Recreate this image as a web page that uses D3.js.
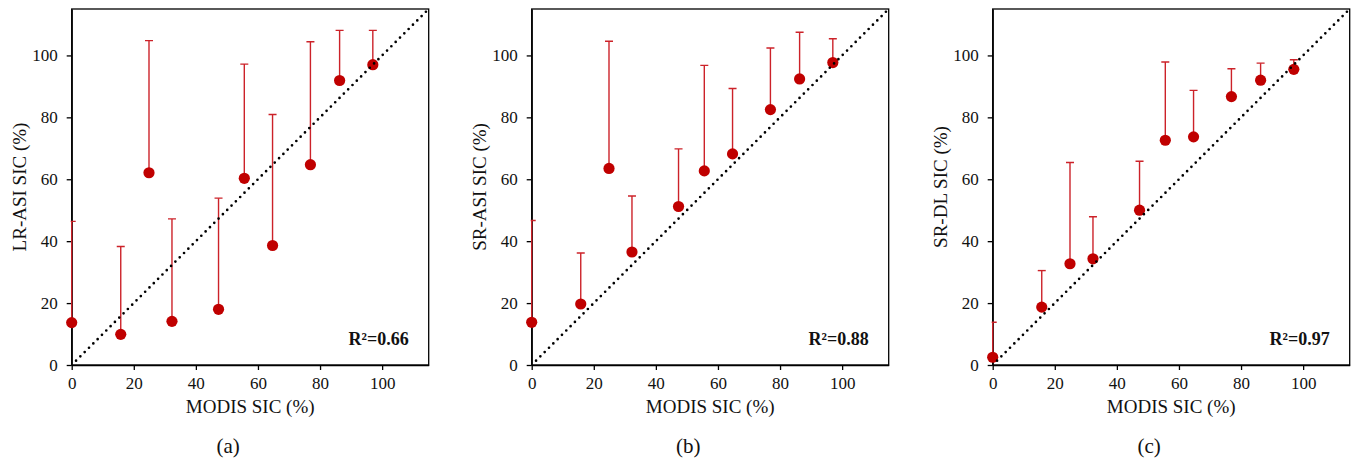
<!DOCTYPE html>
<html>
<head>
<meta charset="utf-8">
<script src="https://cdn.jsdelivr.net/npm/d3@7/dist/d3.min.js"></script>
<style>
  body { margin: 0; background: #fff; }
  text { font-family: "Liberation Serif", "Times New Roman", serif; fill: #111; }
  .axis path, .axis line { stroke: #000; stroke-width: 1.3; }
  .axis text { font-size: 17px; }
</style>
</head>
<body>
<svg id="chart" width="1355" height="462"></svg>
<script>

// --> DATA

var modisSic = [0, 15.8, 24.9, 32.3, 47.3, 55.6, 64.7, 76.9, 86.3, 97.0];

var lrAsiSic   = [13.7, 9.9, 62.1, 14.1, 18.0, 60.3, 38.6, 64.7, 91.9, 97.0];
var lrAsiUpper = [46.4, 38.3, 104.8, 47.2, 53.9, 97.2, 80.9, 104.4, 108.1, 108.1];

var srAsiSic   = [13.8, 19.7, 63.5, 36.5, 51.2, 62.7, 68.2, 82.5, 92.4, 97.7];
var srAsiUpper = [46.7, 36.2, 104.6, 54.6, 69.8, 96.8, 89.3, 102.4, 107.5, 105.4];

var srDlSic    = [2.5, 18.7, 32.7, 34.3, 50.0, 72.6, 73.7, 86.7, 92.0, 95.5];
var srDlUpper  = [13.8, 30.5, 65.4, 47.9, 65.8, 97.9, 88.7, 95.7, 97.5, 98.6];

var yTitles   = ["LR-ASI SIC (%)", "SR-ASI SIC (%)", "SR-DL SIC (%)"];
var r2Labels  = ["R\u00B2=0.66", "R\u00B2=0.88", "R\u00B2=0.97"];
var panelTags = ["(a)", "(b)", "(c)"];
var axisTicks = [0, 20, 40, 60, 80, 100];
var axisMax = 115;

var seriesSic   = [lrAsiSic, srAsiSic, srDlSic];
var seriesUpper = [lrAsiUpper, srAsiUpper, srDlUpper];

// panel placement (pixels)
var panelLeft = [71.7, 531.7, 992.7];
var panelTop = 9;
var panelW = 357, panelH = 356;

var red = "#c00000";
var barRed = "#cc2229";

var svg = d3.select("#chart");

//draw one scatter panel
function draw_panel(i)
{
    var g = svg.append("g")
        .attr("transform", "translate(" + panelLeft[i] + "," + panelTop + ")");

    var x = d3.scaleLinear().domain([0, axisMax]).range([0, panelW]);
    var y = d3.scaleLinear().domain([0, axisMax]).range([panelH, 0]);

    var clipId = "clip" + i;
    g.append("clipPath").attr("id", clipId)
        .append("rect").attr("x", -1).attr("width", panelW + 1).attr("height", panelH);

    var pts = modisSic.map(function(m, k){
        return {x: m, y: seriesSic[i][k], top: seriesUpper[i][k]};
    });

    //axes
    g.append("g")
        .attr("class", "axis")
        .attr("transform", "translate(0," + panelH + ")")
        .call(d3.axisBottom(x).tickValues(axisTicks).tickSize(5).tickPadding(7).tickSizeOuter(0));

    g.append("g")
        .attr("class", "axis")
        .call(d3.axisLeft(y).tickValues(axisTicks).tickSize(5).tickPadding(9).tickSizeOuter(0));

    //frame
    g.append("rect")
        .attr("width", panelW).attr("height", panelH)
        .style("fill", "none")
        .style("stroke", "#000")
        .style("stroke-width", 1.3);

    //error bars (upper only)
    var bars = g.append("g").attr("clip-path", "url(#" + clipId + ")");

    bars.selectAll(".err")
        .data(pts)
        .enter().append("line")
        .attr("x1", function(d){ return x(d.x); })
        .attr("x2", function(d){ return x(d.x); })
        .attr("y1", function(d){ return y(d.y); })
        .attr("y2", function(d){ return y(d.top); })
        .style("stroke", barRed)
        .style("stroke-width", 1.4);

    bars.selectAll(".cap")
        .data(pts)
        .enter().append("line")
        .attr("x1", function(d){ return x(d.x) - 4; })
        .attr("x2", function(d){ return x(d.x) + 4; })
        .attr("y1", function(d){ return y(d.top); })
        .attr("y2", function(d){ return y(d.top); })
        .style("stroke", barRed)
        .style("stroke-width", 1.4);

    //points
    g.selectAll("circle")
        .data(pts)
        .enter().append("circle")
        .attr("cx", function(d){ return x(d.x); })
        .attr("cy", function(d){ return y(d.y); })
        .attr("r", 5.6)
        .style("fill", red);

    //1:1 dotted line (on top of points)
    g.append("line")
        .attr("x1", x(1.4)).attr("y1", y(1.4))
        .attr("x2", x(axisMax)).attr("y2", y(axisMax))
        .style("stroke", "#000")
        .style("stroke-width", 2.7)
        .style("stroke-linecap", "round")
        .style("stroke-dasharray", "0,6.1");

    //titles
    g.append("text")
        .attr("x", panelW / 2).attr("y", panelH + 48)
        .attr("text-anchor", "middle")
        .style("font-size", "19px")
        .text("MODIS SIC (%)");

    g.append("text")
        .attr("transform", "translate(-46," + (panelH / 2) + ") rotate(-90)")
        .attr("text-anchor", "middle")
        .style("font-size", "19px")
        .text(yTitles[i]);

    g.append("text")
        .attr("x", panelW - 20).attr("y", panelH - 20)
        .attr("text-anchor", "end")
        .style("font-size", "18px")
        .style("font-weight", "bold")
        .text(r2Labels[i]);

    g.append("text")
        .attr("x", panelW / 2 - 22).attr("y", panelH + 88)
        .attr("text-anchor", "middle")
        .style("font-size", "21px")
        .text(panelTags[i]);
}

[0, 1, 2].forEach(draw_panel);

</script>
</body>
</html>
